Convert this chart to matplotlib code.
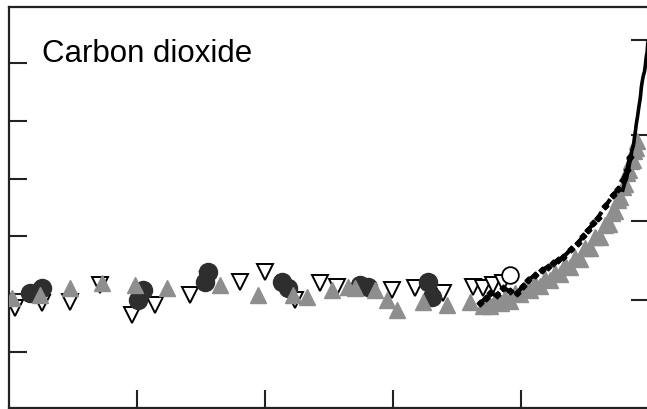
import numpy as np
import matplotlib
matplotlib.use("Agg")
import matplotlib.pyplot as plt

# --------------> DATA (year, CO2 ppm)
open_tri_year = [1009, 1052, 1095, 1142, 1192, 1228, 1283, 1311, 1361, 1400, 1447,
                 1486, 1512, 1598, 1634, 1678, 1725, 1741, 1756, 1772]
open_tri_ppm = [275.2, 276.9, 277.2, 283.1, 272.7, 276.2, 279.7, 284.9, 284.2, 287.6, 277.9,
                283.8, 282.4, 281.4, 282.1, 280.4, 282.4, 282.1, 283.1, 283.8]

gray_tri_year = [1005, 1048, 1095, 1145, 1197, 1247, 1330, 1389, 1444, 1466, 1505,
                 1530, 1541, 1572, 1591, 1606, 1647, 1684, 1720]
gray_tri_ppm = [278.6, 279.7, 282.1, 283.8, 283.1, 282.1, 283.1, 279.7, 279.7, 279.0, 281.4,
                282.4, 282.1, 281.4, 277.9, 274.5, 277.2, 276.2, 277.2]

# dense grey triangles of the recent rise
band_year = [1740, 1748, 1752, 1760, 1768, 1775, 1783, 1790, 1798, 1806, 1814, 1822, 1830,
             1838, 1846, 1853, 1861, 1869, 1876, 1884, 1892, 1900, 1908, 1916, 1923,
             1931, 1937, 1942, 1947, 1951, 1955, 1959, 1962, 1966, 1969, 1972, 1975,
             1977, 1979, 1981]
band_ppm = [276.0, 277.3, 275.8, 277.5, 276.8, 278.6, 277.5, 280.3, 280.0, 282.0, 281.5, 283.5, 282.8,
            285.3, 284.8, 287.3, 286.8, 290.0, 289.5, 292.5, 292.3, 296.0, 296.0, 299.8, 299.8,
            304.0, 304.2, 308.0, 308.8, 312.5, 313.5, 317.0, 318.0, 322.0, 323.0, 326.0, 326.5,
            329.5, 330.5, 333.0]

dark_circ_year = [1033, 1052, 1209, 1202, 1311, 1306, 1427, 1436, 1548, 1561, 1655, 1661]
dark_circ_ppm = [280.4, 282.1, 281.4, 277.9, 287.6, 284.2, 284.2, 282.1, 283.1, 282.4, 284.2, 279.0]

open_circ_year = [1783]
open_circ_ppm = [286.6]

black_year = [1736, 1745, 1752, 1762, 1772, 1783, 1794, 1803, 1811, 1822, 1833, 1842, 1850,
              1858, 1866, 1878, 1889, 1897, 1905, 1913, 1920, 1932, 1944, 1952, 1959, 1966, 1970]
black_ppm = [276.9, 278.5, 280.4, 279.5, 282.1, 281.0, 280.4, 282.8, 284.9, 286.5, 288.3, 289.5, 290.8,
             291.8, 292.8, 295.5, 297.7, 300.0, 302.2, 304.5, 306.4, 310.5, 314.3, 316.5, 319.5, 323.0, 327.5]

ml_year = np.arange(1959, 2000)
ml_ppm = [316.0, 316.9, 317.6, 318.5, 319.0, 319.6, 320.0, 321.4, 322.2, 323.0, 324.6,
          325.7, 326.3, 327.5, 329.7, 330.2, 331.1, 332.0, 333.8, 335.4, 336.8, 338.7,
          340.1, 341.4, 343.0, 344.6, 346.0, 347.4, 349.2, 351.6, 353.1, 354.4, 355.6,
          356.4, 357.1, 358.8, 360.8, 362.6, 363.7, 366.7, 368.4]

left_ticks = [260, 280, 300, 320, 340, 360]
bottom_ticks = [1200, 1400, 1600, 1800]
forcing_ticks = [0, 0.5, 1.0, 1.5]

# --------------> FIGURE
W, H = 647, 409
fig = plt.figure(figsize=(W / 100, H / 100), dpi=100)
ax = fig.add_axes([9 / W, (H - 408) / H, 640 / W, 401 / H])

grey = "#8e8e8e"
dark = "#2e2e2e"
ms = 12

ax.plot(open_tri_year, open_tri_ppm, "v", ms=ms, mfc="white", mec="black", mew=1.4, ls="none", zorder=2)
ax.plot(gray_tri_year, gray_tri_ppm, "^", ms=ms, mfc=grey, mec=grey, ls="none", zorder=3)
ax.plot(dark_circ_year, dark_circ_ppm, "o", ms=ms + 1, mfc=dark, mec=dark, ls="none", zorder=2.5)
ax.plot(open_circ_year, open_circ_ppm, "o", ms=ms, mfc="white", mec="black", mew=1.3, ls="none", zorder=2)
ax.plot(band_year, band_ppm, "^", ms=ms, mfc=grey, mec=grey, ls="none", zorder=3)
ax.plot(black_year, black_ppm, color="black", lw=3, dashes=(2.5, 1.2), zorder=4)
ax.plot(black_year, black_ppm, "D", ms=3.5, color="black", ls="none", zorder=4)
ax.plot(ml_year, ml_ppm, color="black", lw=2.6, zorder=5)

ax.set_xlim(1000, 2000)
ax.set_ylim(240.5, 379.5)
ax.set_xticks(bottom_ticks)
ax.set_yticks(left_ticks)
ax.tick_params(direction="in", length=13, width=1.5, color="#222222",
               labelleft=False, labelbottom=False)
for s in ["left", "top", "bottom"]:
    ax.spines[s].set_linewidth(1.6)
    ax.spines[s].set_color("#222222")

# --------------> RIGHT AXIS: radiative forcing (W/m2)
def ppm_to_forcing(c):
    return 5.35 * np.log(np.asarray(c, dtype=float) / 278.0)

def forcing_to_ppm(f):
    return 278.0 * np.exp(np.asarray(f, dtype=float) / 5.35)

sec = ax.secondary_yaxis("right", functions=(ppm_to_forcing, forcing_to_ppm))
sec.set_yticks(forcing_ticks)
sec.tick_params(direction="in", length=13, width=1.5, color="#222222", labelright=False)

fig.text(42 / W, 1 - 62 / H, "Carbon dioxide", fontsize=22.5,
         family=["Liberation Sans", "DejaVu Sans"], va="baseline", ha="left")

fig.savefig("out.png", dpi=100)
